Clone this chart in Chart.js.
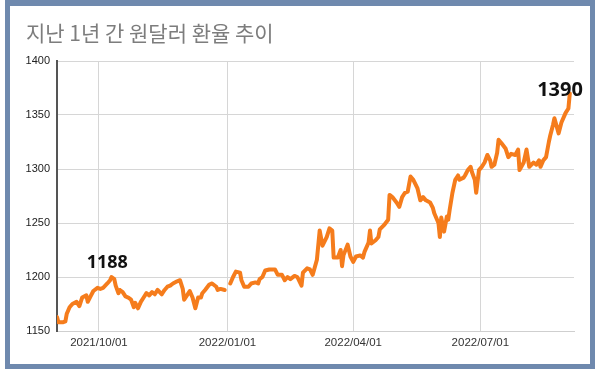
<!DOCTYPE html>
<html>
<head>
<meta charset="utf-8">
<script src="https://cdn.jsdelivr.net/npm/chart.js@4/dist/chart.umd.min.js"></script>
<style>
  html, body { margin: 0; padding: 0; background: #ffffff; width: 600px; height: 373px; overflow: hidden; }
  #wrap { position: relative; width: 600px; height: 373px; }
  #c { position: absolute; left: 0; top: 0; }
  #frame { position: absolute; left: 5px; top: 0; width: 580px; height: 358px;
           border-style: solid; border-color: #6f89ae; border-width: 6px 5px 5px 5px; pointer-events: none; }
</style>
</head>
<body>
<div id="wrap">
  <canvas id="c" width="600" height="373"></canvas>
  <div id="frame"></div>
</div>
<script>
// ---- data ----
const chartTitle = '지난 1년 간 원달러 환율 추이';
const axisStart = '2021-09-01';
const axisEnd = '2022-09-06';
const tickDates = ['2021-10-01', '2022-01-01', '2022-04-01', '2022-07-01'];
const tickLabels = ['2021/10/01', '2022/01/01', '2022/04/01', '2022/07/01'];
const yTicks = [1150, 1200, 1250, 1300, 1350, 1400];

const dates = [
  '2021-09-01','2021-09-02','2021-09-05','2021-09-07','2021-09-08','2021-09-10','2021-09-12','2021-09-15','2021-09-17','2021-09-19',
  '2021-09-22','2021-09-23','2021-09-25','2021-09-27','2021-09-30','2021-10-02','2021-10-04','2021-10-07','2021-10-09','2021-10-10',
  '2021-10-12','2021-10-13','2021-10-15','2021-10-16','2021-10-18','2021-10-20','2021-10-22','2021-10-24','2021-10-26','2021-10-27',
  '2021-10-29','2021-10-31','2021-11-02','2021-11-04','2021-11-06','2021-11-08','2021-11-10','2021-11-12','2021-11-15','2021-11-17',
  '2021-11-19','2021-11-21','2021-11-23','2021-11-26','2021-11-28','2021-11-30','2021-12-01','2021-12-03','2021-12-05','2021-12-07',
  '2021-12-09','2021-12-11','2021-12-13','2021-12-14','2021-12-16','2021-12-19','2021-12-21','2021-12-24','2021-12-25','2021-12-27',
  '2021-12-30','2021-12-31',
  '2022-01-03','2022-01-05','2022-01-07','2022-01-10','2022-01-11','2022-01-13','2022-01-16','2022-01-18','2022-01-21','2022-01-23',
  '2022-01-24','2022-01-26','2022-01-28','2022-01-31','2022-02-04','2022-02-06','2022-02-09','2022-02-11','2022-02-13','2022-02-15',
  '2022-02-18','2022-02-20','2022-02-23','2022-02-24','2022-02-27','2022-03-01','2022-03-03','2022-03-06','2022-03-08','2022-03-10',
  '2022-03-13','2022-03-15','2022-03-17','2022-03-18','2022-03-21','2022-03-23','2022-03-24','2022-03-25','2022-03-28','2022-03-30',
  '2022-04-01','2022-04-03','2022-04-06','2022-04-08','2022-04-09','2022-04-12','2022-04-13','2022-04-14','2022-04-17','2022-04-19',
  '2022-04-20','2022-04-23','2022-04-26','2022-04-27','2022-04-29','2022-05-02','2022-05-04','2022-05-06','2022-05-08','2022-05-10',
  '2022-05-12','2022-05-14','2022-05-17','2022-05-19','2022-05-21','2022-05-23','2022-05-26','2022-05-28','2022-05-29','2022-06-01',
  '2022-06-02','2022-06-03','2022-06-05','2022-06-07','2022-06-08','2022-06-09','2022-06-11','2022-06-13','2022-06-15','2022-06-16',
  '2022-06-19','2022-06-20','2022-06-22','2022-06-24','2022-06-25','2022-06-27','2022-06-28','2022-06-30','2022-07-02','2022-07-04',
  '2022-07-06','2022-07-08','2022-07-09','2022-07-11','2022-07-13','2022-07-14','2022-07-16','2022-07-19','2022-07-21','2022-07-23',
  '2022-07-26','2022-07-28','2022-07-29','2022-08-01','2022-08-03','2022-08-05','2022-08-08','2022-08-10','2022-08-12','2022-08-13',
  '2022-08-15','2022-08-17','2022-08-19','2022-08-20','2022-08-22','2022-08-23','2022-08-26','2022-08-28','2022-08-31','2022-09-02',
  '2022-09-03'
];
const rates = [
  1163,1158,1158,1159,1166,1172,1175,1177,1173,1181,
  1183,1177,1182,1187,1190,1189,1190,1194,1197,1200,
  1198,1192,1185,1188,1186,1182,1181,1179,1172,1176,
  1171,1177,1181,1185,1183,1186,1184,1188,1184,1188,
  1191,1192,1194,1196,1197,1189,1179,1183,1187,1181,
  1171,1181,1181,1185,1188,1193,1194,1191,1188,1189,
  1188,null,
  1194,1200,1205,1204,1197,1191,1191,1194,1195,1194,
  1198,1200,1206,1207,1207,1202,1202,1197,1200,1198,
  1201,1200,1192,1204,1208,1207,1202,1216,1243,1229,
  1237,1245,1243,1218,1218,1225,1210,1220,1230,1219,
  1214,1219,1220,1218,1223,1232,1243,1231,1234,1237,
  1244,1248,1253,1276,1274,1269,1265,1274,1278,1279,
  1293,1290,1282,1271,1274,1271,1269,1264,1259,1250,
  1237,1255,1242,1256,1253,1262,1278,1290,1294,1290,
  1292,1294,1299,1302,1297,1290,1278,1299,1302,1306,
  1313,1308,1302,1304,1315,1327,1324,1319,1311,1314,
  1313,1318,1299,1306,1318,1302,1306,1304,1308,1302,
  1308,1311,1325,1331,1341,1347,1333,1343,1352,1356,
  1370
];

const noteTexts = ['1188', '1390'];
const noteDates = ['2021-10-07', '2022-08-27'];
const noteValues = [1213, 1373];
const noteSizes = [18, 20];

// ---- helpers ----
function dayOf(s) {
  const p = s.split('-').map(Number);
  return (Date.UTC(p[0], p[1] - 1, p[2]) - Date.UTC(2021, 8, 1)) / 86400000;
}
const tickDays = tickDates.map(dayOf);
const points = dates.map((d, i) => ({ x: dayOf(d), y: rates[i] }));

const notePlugin = {
  id: 'notes',
  afterDatasetsDraw(chart) {
    const ctx = chart.ctx;
    const xs = chart.scales.x, ys = chart.scales.y;
    ctx.save();
    ctx.fillStyle = '#111111';
    ctx.textAlign = 'center';
    ctx.textBaseline = 'middle';
    noteTexts.forEach((t, i) => {
      ctx.font = 'bold ' + noteSizes[i] + 'px "Noto Sans", "Liberation Sans", sans-serif';
      ctx.fillText(t, xs.getPixelForValue(dayOf(noteDates[i])), ys.getPixelForValue(noteValues[i]));
    });
    ctx.restore();
  }
};

new Chart(document.getElementById('c'), {
  type: 'line',
  data: {
    datasets: [{
      data: points,
      borderColor: '#f57c1c',
      borderWidth: 4,
      pointRadius: 0,
      tension: 0,
      spanGaps: false,
      fill: false,
      borderJoinStyle: 'round',
      borderCapStyle: 'round'
    }]
  },
  options: {
    responsive: false,
    animation: false,
    devicePixelRatio: 1,
    layout: { padding: { left: 26, right: 26, top: 0, bottom: 0 } },
    plugins: {
      legend: { display: false },
      tooltip: { enabled: false },
      title: {
        display: true,
        text: chartTitle,
        align: 'start',
        color: '#7d7d7d',
        font: { family: '"Noto Sans CJK KR", sans-serif', size: 21, weight: 'normal', lineHeight: 1.2 },
        padding: { top: 20, bottom: 15.8 }
      }
    },
    scales: {
      x: {
        type: 'linear',
        min: dayOf(axisStart),
        max: dayOf(axisEnd),
        afterBuildTicks: (s) => { s.ticks = tickDays.map(v => ({ value: v })); },
        afterFit: (s) => { s.height = 42; },
        grid: { color: '#d6d6d6', lineWidth: 1, drawTicks: false },
        border: { display: true, color: '#cfcfcf', width: 1 },
        ticks: {
          autoSkip: false, maxRotation: 0, padding: 5,
          color: '#333333',
          font: { family: '"Liberation Sans", Arial, sans-serif', size: 11.5 },
          callback: (v) => { const i = tickDays.indexOf(v); return i >= 0 ? tickLabels[i] : ''; }
        }
      },
      y: {
        min: yTicks[0],
        max: yTicks[yTicks.length - 1],
        afterBuildTicks: (s) => { s.ticks = yTicks.map(v => ({ value: v })); },
        afterFit: (s) => { s.width = 31; },
        grid: { color: '#d6d6d6', lineWidth: 1, drawTicks: false },
        border: { display: true, color: '#555555', width: 2 },
        ticks: {
          padding: 7,
          color: '#222222',
          font: { family: '"Liberation Sans", Arial, sans-serif', size: 11 },
          callback: (v) => String(v)
        }
      }
    }
  },
  plugins: [notePlugin]
});
</script>
</body>
</html>
